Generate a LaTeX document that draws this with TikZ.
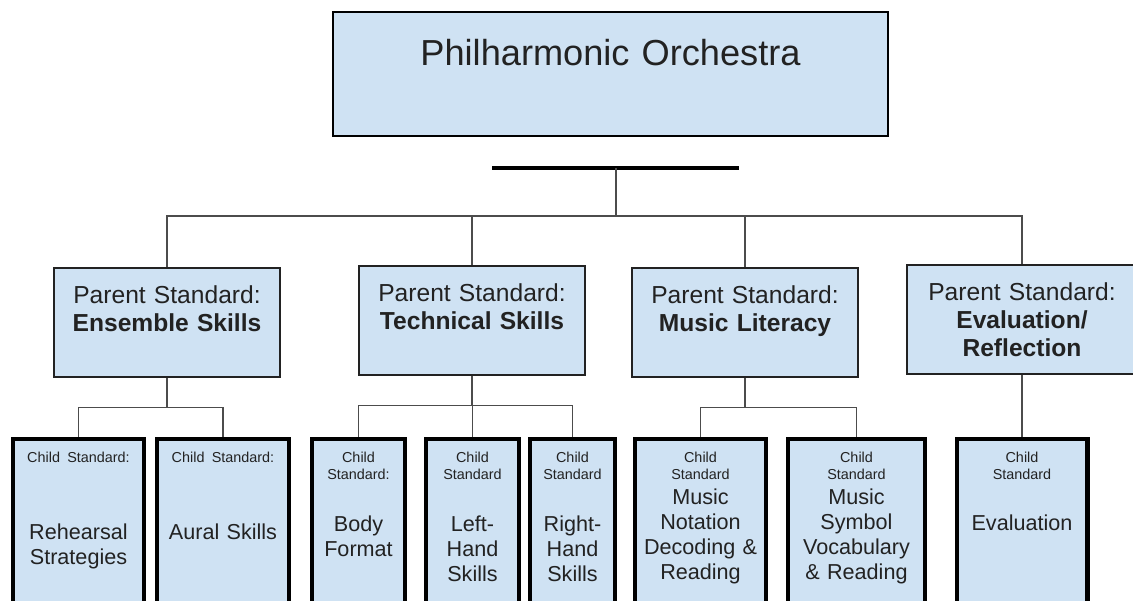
\documentclass[tikz,border=0pt]{standalone}
\usepackage{fontspec}
\setmainfont{Liberation Sans}
\usepackage{tikz}
\setlength{\parindent}{0pt}
\setlength{\parskip}{0pt}

\definecolor{boxblue}{HTML}{CFE2F3}
\definecolor{inkgrey}{HTML}{222222}
\newcommand{\hdr}[1]{{\fontsize{8.2}{9.6}\selectfont\centering #1\par}}

\begin{document}
\begin{tikzpicture}[
    x=0.02cm, y=-0.02cm,
    every node/.style={text=inkgrey},
    orchbox/.style={
        draw=black, line width=1.2pt, fill=boxblue, anchor=north, inner sep=0pt,
        text width=11.1cm, text height=30.6pt, text depth=39.7pt, align=center,
        font=\fontsize{20.6}{24}\selectfont
    },
    parentbox/.style={
        draw=inkgrey, line width=1.1pt, fill=boxblue, anchor=north, inner sep=0pt,
        text width=4.52cm, text height=20.4pt, text depth=41.4pt, align=center,
        font=\fontsize{14}{15.9}\selectfont
    },
    childbox/.style={
        draw=black, line width=2.3pt, fill=boxblue, anchor=north, inner sep=0pt,
        text height=13.3pt, text depth=88.7pt, align=center,
        font=\fontsize{12.3}{14.2}\selectfont
    },
    link/.style={draw=black!70, line width=0.7pt},
    bar/.style={draw=black, line width=1.8pt},
]

\useasboundingbox (0,0) rectangle (1133,601);
\fill[white] (0,0) rectangle (1133,601);

% Row 1: the orchestra
\node[orchbox] (orch) at (610.5,11) {Philharmonic Orchestra};

% Row 2: parent standards
\node[parentbox] (ens) at (167,267) {Parent Standard:\\\textbf{Ensemble Skills}};
\node[parentbox] (tech) at (472,265) {Parent Standard:\\\textbf{Technical Skills}};
\node[parentbox] (lit) at (745,267) {Parent Standard:\\\textbf{Music Literacy}};
\node[parentbox, text width=4.6cm] (evl) at (1022,264)
    {Parent Standard:\\\textbf{Evaluation/}\\\textbf{Reflection}};

% Row 3: child standards
\node[childbox, text width=2.62cm] (reh) at (78.5,437)
    {\hdr{\mbox{Child Standard:}}\vspace{29.5pt}Rehearsal\\Strategies};
\node[childbox, text width=2.64cm] (aur) at (223,437)
    {\hdr{\mbox{Child Standard:}}\vspace{29.5pt}Aural Skills};
\node[childbox, text width=1.86cm] (body) at (358.5,437)
    {\hdr{Child\\Standard:}\vspace{15.8pt}Body\\Format};
\node[childbox, text width=1.86cm] (lhand) at (472.5,437)
    {\hdr{Child\\Standard}\vspace{15.8pt}Left-\\Hand\\Skills};
\node[childbox, text width=1.70cm] (rhand) at (572.5,437)
    {\hdr{Child\\Standard}\vspace{15.8pt}Right-\\Hand\\Skills};
\node[childbox, text width=2.62cm] (nota) at (700.5,437)
    {\hdr{Child\\Standard}Music\\Notation\\Decoding \&\\Reading};
\node[childbox, text width=2.74cm] (symb) at (856.5,437)
    {\hdr{Child\\Standard}Music\\Symbol\\Vocabulary\\\& Reading};
\node[childbox, text width=2.62cm] (evc) at (1022,437)
    {\hdr{Child\\Standard}\vspace{15pt}Evaluation};

% Bar and trunk
\coordinate (barL) at (492,168);
\coordinate (barR) at (739,168);
\coordinate (hub) at (616,168);
\coordinate (bus) at (616,216);
\draw[bar] (barL) -- (barR);
\draw[link] (hub) -- (bus);
\foreach \p in {ens,tech,lit,evl}
    \draw[link] (bus) -| (\p.north);

% Parents to children
\foreach \p/\c in {ens/reh, ens/aur, tech/body, tech/lhand, tech/rhand, lit/nota, lit/symb}
    \draw[link] (\p.south) -- ++(0,30) -| (\c.north);
\draw[link] (evl.south) -- (evc.north);

\end{tikzpicture}
\end{document}
